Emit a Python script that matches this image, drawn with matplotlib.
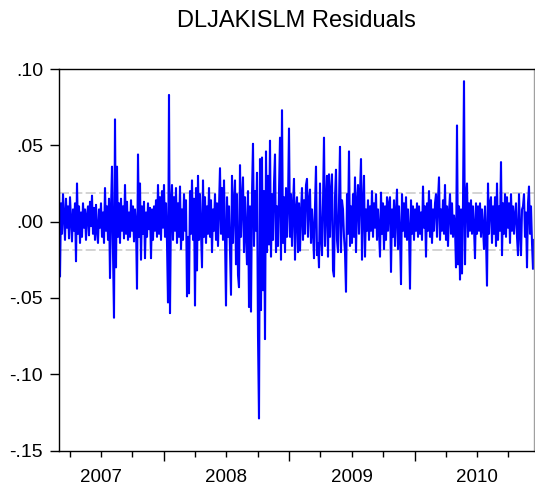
import matplotlib
matplotlib.use("Agg")
import matplotlib.pyplot as plt
import matplotlib.dates as mdates
from matplotlib.ticker import FixedLocator, FuncFormatter
import pandas as pd
import datetime as dt

plt.rcParams['font.family'] = ['Liberation Sans', 'DejaVu Sans']

title = "DLJAKISLM Residuals"
start_date = "2007-03-01"
end_date = "2010-12-15"
year_labels = [2007, 2008, 2009, 2010]
y_ticks = [-0.15, -0.10, -0.05, 0.00, 0.05, 0.10]
band = 0.0187

residuals = [
    0.021, -0.036, 0.012, -0.008, 0.018, 0.004, -0.012, 0.015, -0.004, 0.010,
    -0.011, 0.016, 0.002, -0.013, 0.008, -0.006, 0.012, -0.026, 0.025, -0.008,
    0.010, -0.014, 0.006, -0.010, 0.012, -0.004, 0.008, -0.012, 0.004, 0.010,
    -0.009, 0.013, -0.003, 0.017, -0.008, 0.009, -0.012, 0.011, -0.006, -0.014,
    0.008, -0.004, 0.012, -0.010, 0.006, -0.014, 0.022, -0.006, 0.010, -0.012,
    0.015, -0.037, 0.008, 0.036, -0.020, -0.063, 0.067, -0.030, 0.036, -0.010,
    0.012, -0.014, 0.015, -0.006, 0.010, -0.011, 0.024, -0.008, 0.013, -0.012,
    0.006, -0.010, 0.014, -0.006, 0.010, -0.013, 0.008, -0.002, -0.044, 0.044,
    -0.010, 0.025, -0.025, 0.010, -0.008, 0.013, -0.024, 0.006, -0.010, 0.012,
    -0.005, 0.009, -0.024, 0.008, -0.012, 0.010, -0.006, 0.014, -0.010, 0.024,
    -0.008, 0.016, -0.012, 0.020, -0.004, 0.024, -0.010, 0.012, -0.014, -0.053,
    0.083, -0.060, 0.010, 0.024, -0.012, 0.016, -0.006, 0.022, -0.014, 0.012,
    -0.010, 0.023, -0.018, 0.008, -0.012, 0.018, -0.006, 0.014, -0.049, -0.010,
    -0.047, 0.020, -0.008, 0.027, -0.012, 0.015, -0.055, 0.022, -0.032, 0.030,
    -0.012, 0.018, -0.006, -0.030, 0.027, -0.010, 0.016, -0.014, 0.010, -0.008,
    0.022, -0.010, 0.014, -0.020, 0.008, -0.006, 0.018, -0.012, 0.012, -0.016,
    0.010, 0.035, -0.008, 0.022, -0.012, 0.027, -0.010, -0.055, 0.016, -0.010,
    0.010, -0.020, -0.048, 0.030, -0.014, 0.012, 0.027, -0.028, 0.018, -0.035,
    -0.043, 0.037, -0.010, 0.014, 0.029, -0.020, 0.016, -0.008, -0.028, 0.020,
    -0.056, 0.010, -0.059, 0.018, 0.051, -0.016, 0.020, -0.006, 0.032, -0.075,
    -0.129, 0.041, -0.058, 0.042, -0.045, 0.020, -0.077, 0.046, -0.020, 0.030,
    -0.015, 0.053, -0.023, 0.018, -0.012, 0.025, 0.044, -0.020, 0.010, -0.016,
    0.020, 0.055, -0.025, 0.073, -0.014, 0.016, -0.020, 0.022, -0.010, 0.012,
    0.061, -0.010, 0.018, -0.016, 0.010, 0.028, -0.025, 0.008, 0.016, -0.020,
    0.012, -0.019, 0.006, 0.022, -0.012, 0.014, -0.008, 0.024, 0.028, -0.010,
    0.014, 0.021, -0.014, 0.008, -0.006, -0.024, 0.010, 0.036, -0.022, -0.014,
    -0.030, 0.025, -0.010, -0.022, 0.012, 0.055, -0.016, 0.010, 0.030, -0.023,
    0.031, -0.010, 0.020, 0.031, -0.032, -0.036, 0.016, 0.034, -0.012, -0.020,
    0.012, 0.049, -0.020, 0.014, 0.008, -0.010, -0.020, -0.046, 0.018, -0.008,
    0.046, -0.016, 0.010, -0.014, 0.018, -0.010, 0.029, -0.020, 0.012, 0.024,
    -0.008, 0.018, 0.041, -0.025, 0.010, 0.030, -0.023, 0.008, -0.006, 0.014,
    -0.012, 0.010, -0.006, 0.020, -0.010, 0.012, -0.004, 0.018, -0.012, 0.008,
    -0.006, -0.023, 0.019, -0.008, 0.012, -0.018, 0.010, -0.012, 0.016, -0.006,
    0.012, 0.016, -0.033, 0.008, -0.010, 0.014, -0.016, 0.006, 0.021, -0.018,
    0.010, -0.008, -0.041, 0.018, -0.006, 0.012, -0.010, 0.016, -0.012, 0.008,
    -0.006, -0.044, 0.014, -0.008, 0.010, -0.012, 0.008, -0.006, 0.012, -0.010,
    0.010, -0.008, 0.006, -0.012, 0.023, -0.004, 0.010, -0.023, 0.012, -0.006,
    0.020, -0.010, 0.014, -0.014, 0.008, -0.006, 0.012, 0.018, -0.010, 0.014,
    0.029, -0.012, 0.008, -0.006, 0.014, -0.008, 0.024, -0.012, 0.010, -0.016,
    0.006, 0.018, -0.008, 0.012, -0.010, 0.004, -0.004, -0.030, 0.063, -0.028,
    0.010, -0.038, 0.008, -0.034, 0.012, 0.092, -0.028, 0.016, 0.025, -0.010,
    0.012, -0.006, 0.014, -0.008, 0.010, -0.004, -0.024, 0.012, -0.008, 0.010,
    -0.006, 0.012, -0.010, 0.008, -0.004, -0.018, 0.010, -0.010, -0.042, 0.025,
    -0.008, 0.012, 0.016, -0.014, 0.010, -0.008, 0.016, -0.016, 0.025, -0.012,
    0.010, -0.006, 0.039, -0.022, 0.012, -0.008, 0.018, -0.010, 0.016, -0.004,
    0.012, -0.014, 0.018, -0.006, 0.010, -0.008, 0.004, 0.012, -0.010, -0.022,
    0.018, -0.006, -0.022, 0.008, 0.010, 0.018, -0.010, 0.006, -0.030, 0.012,
    0.023, -0.008, 0.010, -0.014, -0.031, -0.012,
]

dates = pd.date_range(start_date, end_date, periods=len(residuals))

fig = plt.figure(figsize=(5.35, 4.86), dpi=100)
ax = fig.add_axes([59 / 535, 1 - 450.5 / 486, 475 / 535, (450.5 - 69) / 486])

ax.axhline(band, color='#cccccc', lw=1.2, ls=(0, (6, 2)), zorder=1)
ax.axhline(-band, color='#cccccc', lw=1.2, ls=(0, (6, 2)), zorder=1)
ax.plot(dates, residuals, color='#0000ff', lw=1.5, zorder=2)

ax.set_xlim(pd.Timestamp(start_date), pd.Timestamp(end_date))
ax.set_ylim(-0.15, 0.10)

ax.set_yticks(y_ticks)
def yfmt(v, pos):
    s = f"{v:.2f}"
    s = s.replace("0.", ".")
    if s == "-.00":
        s = ".00"
    return s
ax.yaxis.set_major_formatter(FuncFormatter(yfmt))

major = [mdates.date2num(dt.date(y, 1, 1)) for y in year_labels[1:]]
minor = []
for y in year_labels:
    for m in (1, 4, 7, 10):
        d = mdates.date2num(dt.date(y, m, 1))
        if d not in major:
            minor.append(d)
ax.xaxis.set_major_locator(FixedLocator(major))
ax.xaxis.set_minor_locator(FixedLocator(minor))
ax.xaxis.set_major_formatter(FuncFormatter(lambda v, p: ""))
def minfmt(v, pos):
    d = mdates.num2date(v)
    return str(d.year) if d.month == 7 else ""
ax.xaxis.set_minor_formatter(FuncFormatter(minfmt))

ax.tick_params(axis='x', which='major', direction='out', length=7.5, width=1.0, color='black')
ax.tick_params(axis='x', which='minor', direction='out', length=4, width=1.0, color='black',
               labelsize=13.5, pad=9)
ax.tick_params(axis='y', which='major', direction='out', length=6.5, width=1.0, color='black',
               labelsize=14, pad=5)

for s in ('left', 'bottom', 'top'):
    ax.spines[s].set_color('black')
    ax.spines[s].set_linewidth(1.0)
ax.spines['right'].set_color('#a0a0a0')
ax.spines['right'].set_linewidth(1.0)

fig.text(296.5 / 535, 1 - 21 / 486, title, ha='center', va='center', fontsize=17)

fig.savefig("out.png", dpi=100)
